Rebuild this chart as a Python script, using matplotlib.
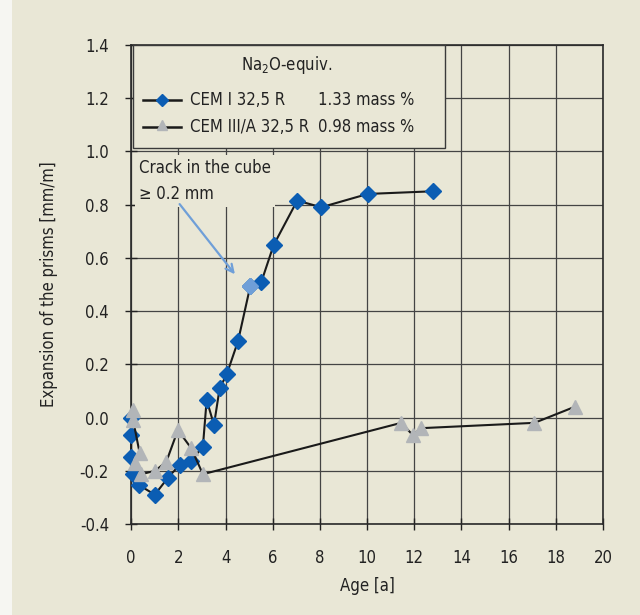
import matplotlib
matplotlib.use("Agg")
import matplotlib.pyplot as plt
from matplotlib.patches import Rectangle
from matplotlib.lines import Line2D

plt.rcParams['font.family'] = ['DejaVu Sans']
plt.rcParams['font.stretch'] = 'condensed'

# CEM I 32,5 R (blue diamonds)
cem1_x = [0.0, 0.0, 0.0, 0.08, 0.32, 1.0, 1.56, 2.05, 2.52, 3.04, 3.2, 3.51, 3.75, 4.05,
          4.53, 5.05, 5.52, 6.04, 7.04, 8.06, 10.03, 12.79]
cem1_y = [0.0, -0.065, -0.147, -0.213, -0.253, -0.29, -0.226, -0.178, -0.165, -0.109, 0.066,
          -0.028, 0.11, 0.162, 0.287, 0.494, 0.51, 0.648, 0.815, 0.79, 0.84, 0.85]
crack_x = 5.05
crack_y = 0.494

# CEM III/A 32,5 R (grey triangles)
cem3_x = [0.08, 0.08, 0.36, 0.15, 0.43, 1.02, 1.49, 1.98, 2.55, 3.04, 11.45, 11.94, 12.3, 17.1, 18.8]
cem3_y = [0.029, -0.009, -0.134, -0.17, -0.213, -0.2, -0.166, -0.047, -0.116, -0.213,
          -0.02, -0.066, -0.04, -0.02, 0.04]

xticks = [0, 2, 4, 6, 8, 10, 12, 14, 16, 18, 20]
yticks = [-0.4, -0.2, 0.0, 0.2, 0.4, 0.6, 0.8, 1.0, 1.2, 1.4]

bg = '#e9e7d6'
blue = '#0b5db3'
light_blue = '#6f9fd8'
grey = '#b2b5b8'
txt = '#222222'

fig = plt.figure(figsize=(6.4, 6.15), dpi=100, facecolor=bg)
fig.patches.append(Rectangle((0, 0), 12 / 640, 1, transform=fig.transFigure,
                             facecolor='#f6f6f2', edgecolor='none', zorder=0))
ax = fig.add_axes([0.205, 0.148, 0.737, 0.779])
ax.set_facecolor(bg)

ax.set_xlim(0, 20)
ax.set_ylim(-0.4, 1.4)
ax.set_xticks(xticks)
ax.set_yticks(yticks)
ax.set_xticklabels([str(t) for t in xticks])
ax.set_yticklabels([f"{t:.1f}" for t in yticks])
ax.grid(True, color='#444444', lw=0.9, zorder=1)
ax.tick_params(direction='inout', length=8, width=1, labelsize=12, colors=txt)
ax.tick_params(axis='x', pad=14)
ax.tick_params(axis='y', pad=12)
for s in ax.spines.values():
    s.set_color('#2a2a2a')
    s.set_linewidth(1.2)
ax.set_xlabel('Age [a]', fontsize=12, color=txt, labelpad=7)
ax.set_ylabel('Expansion of the prisms [mm/m]', fontsize=12, color=txt, labelpad=16)

ax.plot(cem1_x, cem1_y, color='#1a1a1a', lw=1.5, marker='D', ms=8.5, mfc=blue, mec=blue,
        zorder=4, clip_on=False)
ax.plot([crack_x], [crack_y], marker='D', ms=8.5, mfc=light_blue, mec=light_blue, zorder=5)
ax.plot(cem3_x, cem3_y, color='#1a1a1a', lw=1.5, marker='^', ms=10, mfc=grey, mec=grey,
        zorder=6, clip_on=False)

# annotation
ax.annotate('', xy=(4.47, 0.53), xytext=(1.98, 0.81),
            arrowprops=dict(arrowstyle='->', color=light_blue, lw=1.6, mutation_scale=14),
            zorder=7)
ax.text(0.32, 0.97, 'Crack in the cube\n\u2265 0.2 mm', fontsize=12, color=txt,
        va='top', ha='left', linespacing=1.55, zorder=3,
        bbox=dict(facecolor=bg, edgecolor='none', pad=3))

# legend box
ax.add_patch(Rectangle((0.06, 1.013), 13.24, 0.387, facecolor=bg, edgecolor='#3a3a3a',
                       lw=1.0, zorder=3))
ax.text(6.6, 1.326, 'Na$_2$O-equiv.', fontsize=12, ha='center', va='center',
        color=txt, zorder=8)
ax.add_line(Line2D([0.5, 2.1], [1.194, 1.194], color='#1a1a1a', lw=1.8, zorder=8))
ax.add_line(Line2D([1.3], [1.194], marker='D', ms=6.5, mfc=blue, mec=blue, zorder=9))
ax.text(2.5, 1.194, 'CEM I 32,5 R', fontsize=12, ha='left', va='center', color=txt, zorder=8)
ax.text(7.9, 1.194, '1.33 mass %', fontsize=12, ha='left', va='center', color=txt, zorder=8)
ax.add_line(Line2D([0.5, 2.1], [1.09, 1.09], color='#1a1a1a', lw=1.8, zorder=8))
ax.add_line(Line2D([1.3], [1.1], marker='^', ms=7, mfc=grey, mec=grey, zorder=9))
ax.text(2.5, 1.09, 'CEM III/A 32,5 R', fontsize=12, ha='left', va='center', color=txt, zorder=8)
ax.text(7.9, 1.09, '0.98 mass %', fontsize=12, ha='left', va='center', color=txt, zorder=8)

fig.savefig('out.png', dpi=100, facecolor=fig.get_facecolor())
